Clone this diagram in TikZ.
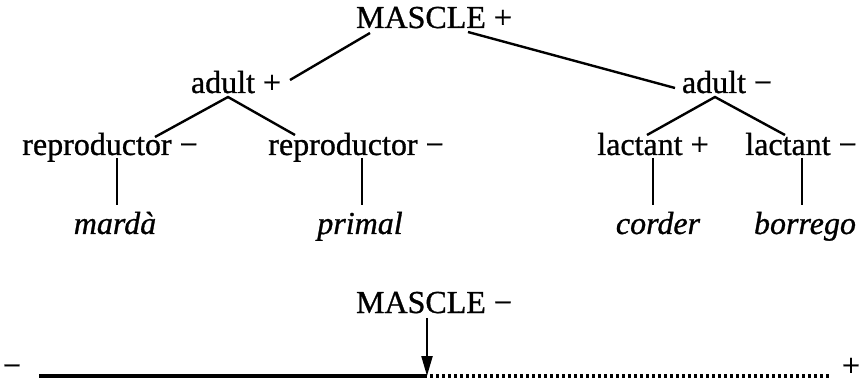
\documentclass[tikz,border=0pt]{standalone}
\usepackage{fontspec}
\setmainfont{Liberation Serif}
\newfontfamily\treefont{Liberation Serif}[FakeBold=0.9]
\usetikzlibrary{arrows.meta}
\tikzset{
  lbl/.style={anchor=base, inner sep=0pt, font=\fontsize{32}{38}\treefont},
  word/.style={lbl, font=\fontsize{32}{38}\treefont\itshape},
  branch/.style={line width=2.4pt},
  stem/.style={line width=2.2pt},
  scale line/.style={line width=3.4pt},
  dots/.style={line width=3.2pt, dash pattern=on 3pt off 3pt},
  pointer/.style={line width=2.2pt, -{Triangle[length=20pt,width=11pt]}}
}
\begin{document}
\begin{tikzpicture}[x=1pt,y=-1pt]
  \useasboundingbox (0,0) rectangle (865,382);

  % tree of features
  \node[lbl] (root) at (434,28) {MASCLE +};
  \node[lbl] (adp) at (236,93) {adult +};
  \node[lbl] (adm) at (727,93) {adult −};
  \node[lbl] (rp1) at (110,155) {reproductor −};
  \node[lbl] (rp2) at (356,155) {reproductor −};
  \node[lbl] (lcp) at (653,155) {lactant +};
  \node[lbl] (lcm) at (801,155) {lactant −};
  \node[word] (w1) at (115,234) {mardà};
  \node[word] (w2) at (360,234) {primal};
  \node[word] (w3) at (658,234) {corder};
  \node[word] (w4) at (805,234) {borrego};

  % branch end points
  \coordinate (rootL) at (370,33);
  \coordinate (rootR) at (468,32);
  \coordinate (adpT) at (290,80);
  \coordinate (admT) at (675,88);
  \coordinate (adpB) at (228,97);
  \coordinate (admB) at (715,97);
  \coordinate (rp1T) at (155,137);
  \coordinate (rp2T) at (295,135);
  \coordinate (lcpT) at (647,135);
  \coordinate (lcmT) at (785,135);
  \coordinate (rp1B) at (117,158);
  \coordinate (rp2B) at (362,158);
  \coordinate (lcpB) at (653,158);
  \coordinate (lcmB) at (802,158);
  \coordinate (w1T) at (117,205);
  \coordinate (w2T) at (362,205);
  \coordinate (w3T) at (653,205);
  \coordinate (w4T) at (802,205);

  \draw[branch] (rootL) -- (adpT);
  \draw[branch] (rootR) -- (admT);
  \draw[branch] (rp1T) -- (adpB) -- (rp2T);
  \draw[branch] (lcpT) -- (admB) -- (lcmT);
  \draw[stem] (rp1B) -- (w1T);
  \draw[stem] (rp2B) -- (w2T);
  \draw[stem] (lcpB) -- (w3T);
  \draw[stem] (lcmB) -- (w4T);

  % scale from minus to plus
  \node[lbl] (neg) at (12,376) {−};
  \node[lbl] (pos) at (851,376) {+};
  \node[lbl] (mneg) at (434,313) {MASCLE −};
  \coordinate (sL) at (39,376);
  \coordinate (sM) at (427,376);
  \coordinate (sR) at (829,376);
  \coordinate (aT) at (427,318);
  \draw[scale line] (sL) -- (sM);
  \draw[dots] ([xshift=3pt]sM) -- (sR);
  \draw[pointer] (aT) -- (sM);
\end{tikzpicture}
\end{document}
